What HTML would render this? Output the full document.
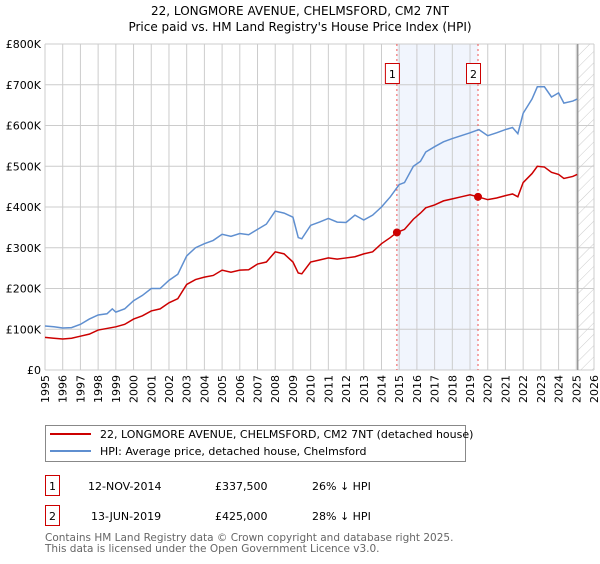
<!DOCTYPE html>
<html><head><meta charset="utf-8"><style>
body{margin:0;background:#fff;font-family:"DejaVu Sans","Liberation Sans",sans-serif;}
svg text{font-family:"DejaVu Sans","Liberation Sans",sans-serif;}
</style></head><body>
<svg id="chart" width="600" height="560" xmlns="http://www.w3.org/2000/svg">
<defs><pattern id="hatch" width="8" height="8" patternUnits="userSpaceOnUse" patternTransform="rotate(45)"><line x1="0" y1="0" x2="0" y2="8" stroke="#ccc" stroke-width="1"/></pattern></defs>
<text x="300" y="15" text-anchor="middle" font-size="12">22, LONGMORE AVENUE, CHELMSFORD, CM2 7NT</text>
<text x="300" y="31" text-anchor="middle" font-size="12">Price paid vs. HM Land Registry's House Price Index (HPI)</text>
<g id="plot"></g>
<g>
<rect x="45.5" y="425.5" width="420" height="36" fill="#fff" stroke="#888"/>
<line x1="50" y1="434" x2="91" y2="434" stroke="#cc0000" stroke-width="2"/>
<text x="100" y="438" font-size="11">22, LONGMORE AVENUE, CHELMSFORD, CM2 7NT (detached house)</text>
<line x1="50" y1="451" x2="91" y2="451" stroke="#5f8fd0" stroke-width="2"/>
<text x="100" y="455" font-size="11">HPI: Average price, detached house, Chelmsford</text>
</g>
<g>
<rect x="45.5" y="475.5" width="14" height="20" fill="#fff" stroke="#cc0000"/>
<text x="52.5" y="490" text-anchor="middle" font-size="11">1</text>
<text x="88" y="490" font-size="11">12-NOV-2014</text>
<text x="215" y="490" font-size="11">£337,500</text>
<text x="312" y="490" font-size="11">26% ↓ HPI</text>
<rect x="45.5" y="505.5" width="14" height="20" fill="#fff" stroke="#cc0000"/>
<text x="52.5" y="520" text-anchor="middle" font-size="11">2</text>
<text x="91" y="520" font-size="11">13-JUN-2019</text>
<text x="215" y="520" font-size="11">£425,000</text>
<text x="312" y="520" font-size="11">28% ↓ HPI</text>
</g>
<text x="45" y="541" font-size="10.5" fill="#666">Contains HM Land Registry data © Crown copyright and database right 2025.</text>
<text x="45" y="552" font-size="10.5" fill="#666">This data is licensed under the Open Government Licence v3.0.</text>
</svg>
<script>
const yTicks=[0,100,200,300,400,500,600,700,800];
const yTickLabels=["£0","£100K","£200K","£300K","£400K","£500K","£600K","£700K","£800K"];
const xYears=[1995,1996,1997,1998,1999,2000,2001,2002,2003,2004,2005,2006,2007,2008,2009,2010,2011,2012,2013,2014,2015,2016,2017,2018,2019,2020,2021,2022,2023,2024,2025,2026];
const hpiT=[1995,1995.5,1996,1996.5,1997,1997.5,1998,1998.5,1998.8,1999,1999.5,2000,2000.5,2001,2001.5,2002,2002.5,2003,2003.5,2004,2004.5,2005,2005.5,2006,2006.5,2007,2007.5,2008,2008.5,2009,2009.3,2009.5,2010,2010.5,2011,2011.5,2012,2012.5,2013,2013.5,2014,2014.5,2015,2015.3,2015.8,2016.2,2016.5,2017,2017.5,2018,2018.5,2019,2019.5,2020,2020.5,2021,2021.4,2021.7,2022,2022.5,2022.8,2023.2,2023.6,2024,2024.3,2024.8,2025.05];
const hpiV=[108,106,103,104,112,125,135,138,150,142,150,170,183,200,200,220,235,280,300,310,318,333,328,335,332,345,358,390,385,375,325,322,355,363,372,363,362,380,368,380,400,425,455,460,500,512,535,548,560,568,575,582,590,575,582,590,595,580,630,665,695,695,670,680,655,660,665];
const ppT=[1995,1995.5,1996,1996.5,1997,1997.5,1998,1998.5,1999,1999.5,2000,2000.5,2001,2001.5,2002,2002.5,2003,2003.5,2004,2004.5,2005,2005.5,2006,2006.5,2007,2007.5,2008,2008.5,2009,2009.3,2009.5,2010,2010.5,2011,2011.5,2012,2012.5,2013,2013.5,2014,2014.5,2014.87,2015.3,2015.8,2016.2,2016.5,2017,2017.5,2018,2018.5,2019,2019.45,2020,2020.5,2021,2021.4,2021.7,2022,2022.5,2022.8,2023.2,2023.6,2024,2024.3,2024.8,2025.05];
const ppV=[80,78,76,78,83,88,98,102,106,112,125,133,145,150,165,175,210,222,228,232,245,240,245,246,260,265,290,285,265,238,236,265,270,275,272,275,278,285,290,310,325,337.5,345,370,385,398,405,415,420,425,430,425,418,422,428,432,425,460,482,500,498,485,480,470,475,480];
const saleT=[2014.87,2019.45];
const saleV=[337.5,425];
const saleLabels=["1","2"];
const L=45,R=594,T=44,B=370,x0=1995,x1=2026,yMax=800,endT=2025.08;
const X=t=>L+(t-x0)/(x1-x0)*(R-L);
const Y=v=>B-v/yMax*(B-T);
const NS="http://www.w3.org/2000/svg";
const g=document.getElementById('plot');
function mk(tag,attrs){const e=document.createElementNS(NS,tag);for(const k in attrs)e.setAttribute(k,attrs[k]);g.appendChild(e);return e;}
const shade=mk('rect',{x:X(saleT[0]),y:T,width:X(saleT[1])-X(saleT[0]),height:B-T,fill:'#eef3fc',opacity:0.8});


const hatch=mk('rect',{x:X(endT),y:T,width:R-X(endT),height:B-T,fill:'url(#hatch)'});


yTicks.forEach((v,i)=>{
 const l=mk('line',{x1:L,x2:R,y1:Y(v),y2:Y(v),stroke:'#cccccc','stroke-width':1});
 
 
 const t=mk('text',{x:L-4,y:Y(v)+4,'text-anchor':'end','font-size':11});
 
 
 t.textContent=yTickLabels[i];
});
xYears.forEach(yr=>{
 const l=mk('line',{x1:X(yr),x2:X(yr),y1:T,y2:B,stroke:'#cccccc','stroke-width':1});
 
 
 const t=mk('text',{x:0,y:0,'text-anchor':'end','font-size':11,transform:`translate(${X(yr)+4},${B+5}) rotate(-90)`});
 
 
 t.textContent=yr;
});
const endLine=mk('line',{x1:X(endT),x2:X(endT),y1:T,y2:B,stroke:'#999','stroke-width':1.5});


saleT.forEach((s,i)=>{
 const l=mk('line',{x1:X(s),x2:X(s),y1:T,y2:B,stroke:'#ee5555','stroke-width':1,'stroke-dasharray':'2,3'});
 
 
 const bx=mk('rect',{x:X(s)-11.5,y:63.5,width:14,height:20,fill:'#fff',stroke:'#cc0000'});
 
 
 const tx=mk('text',{x:X(s)-4.5,y:78,'text-anchor':'middle','font-size':11});
 
 
 tx.textContent=saleLabels[i];
});
const hp=mk('polyline',{points:hpiT.map((t,i)=>X(t)+','+Y(hpiV[i])).join(' '),fill:'none',stroke:'#5f8fd0','stroke-width':1.5});


const pp=mk('polyline',{points:ppT.map((t,i)=>X(t)+','+Y(ppV[i])).join(' '),fill:'none',stroke:'#cc0000','stroke-width':1.5});


saleT.forEach((s,i)=>{
 const c=mk('circle',{cx:X(s),cy:Y(saleV[i]),r:4,fill:'#cc0000'});
 
 
});
</script>
</body></html>
